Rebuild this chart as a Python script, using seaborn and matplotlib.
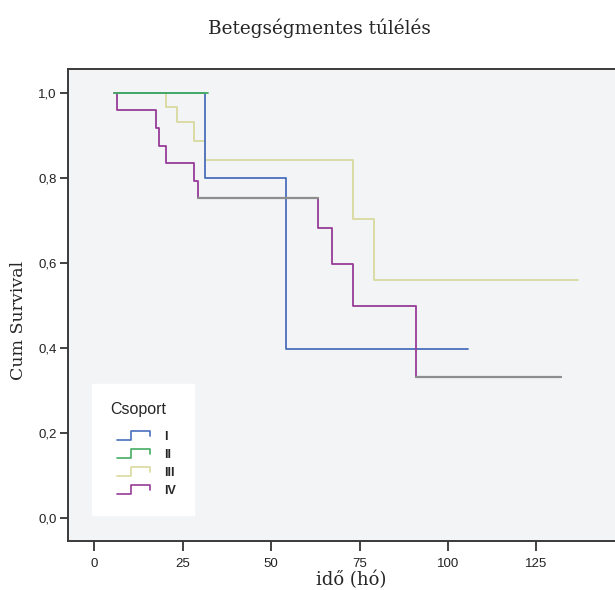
import matplotlib
matplotlib.use("Agg")
import matplotlib.pyplot as plt
from matplotlib.lines import Line2D
from matplotlib.legend_handler import HandlerBase
import seaborn as sns
import pandas as pd
import numpy as np

# ---- data ----
groups = ["I", "II", "III", "IV"]
t_I = [6.0, 31.2, 54.2, 105.7]
s_I = [1.0, 0.800, 0.399, 0.399]
t_II = [5.5, 32.0]
s_II = [1.0, 1.0]
t_III = [6.0, 20.3, 23.3, 28.2, 31.2, 73.1, 79.1, 136.7]
s_III = [1.0, 0.965, 0.932, 0.887, 0.842, 0.702, 0.561, 0.561]
t_IV = [5.6, 6.3, 17.4, 18.4, 20.3, 28.2, 29.2, 63.1, 67.1, 73.1, 91.0, 131.9]
s_IV = [1.0, 0.959, 0.916, 0.875, 0.834, 0.793, 0.752, 0.682, 0.597, 0.498, 0.332, 0.332]
# grey overlapping segments (drawn grey in the reference)
t_grey = [29.2, 63.1, np.nan, 91.0, 131.9]
s_grey = [0.752, 0.752, np.nan, 0.332, 0.332]

xticks = [0, 25, 50, 75, 100, 125]
yticks = [0.0, 0.2, 0.4, 0.6, 0.8, 1.0]
ytick_labels = ["0,0", "0,2", "0,4", "0,6", "0,8", "1,0"]

colors = {"I": "#4a6fbd", "II": "#45ad62", "III": "#d9d9a0", "IV": "#973c97"}
grey = "#8e8e8e"

series = {"I": (t_I, s_I), "II": (t_II, s_II), "III": (t_III, s_III), "IV": (t_IV, s_IV)}

sns.set_theme(style="ticks")
plt.rcParams["font.family"] = ["Liberation Sans", "DejaVu Sans"]

fig = plt.figure(figsize=(6.15, 5.9), dpi=100)
ax = fig.add_axes([68 / 615, 1 - 541 / 590, 1 - 68 / 615, (541 - 68.7) / 590])
ax.set_facecolor("#f2f4f6")

order = ["III", "I", "IV", "II"]
for g in order:
    t, s = series[g]
    df = pd.DataFrame({"t": t, "s": s})
    sns.lineplot(data=df, x="t", y="s", ax=ax, color=colors[g], lw=1.3,
                 drawstyle="steps-post", estimator=None, sort=False, legend=False)
df_g = pd.DataFrame({"t": t_grey, "s": s_grey})
ax.plot(df_g["t"], df_g["s"], color=grey, lw=1.6, drawstyle="steps-post")

ax.set_xlim(-7.45, 147.2)
ax.set_ylim(-0.053, 1.056)
ax.set_xticks(xticks)
ax.set_xticklabels([str(v) for v in xticks])
ax.set_yticks(yticks)
ax.set_yticklabels(ytick_labels)
ax.set_xlabel("")
ax.set_ylabel("")
ax.tick_params(axis="both", labelsize=9.5, colors="#222222", width=1.2, length=6)
ax.tick_params(axis="x", length=7, pad=5)
ax.tick_params(axis="y", pad=2)
for sp in ["left", "bottom", "top"]:
    ax.spines[sp].set_color("#3a3a3a")
    ax.spines[sp].set_linewidth(1.4)
ax.spines["right"].set_visible(False)


class StepHandler(HandlerBase):
    def create_artists(self, legend, orig_handle, xdescent, ydescent, width, height, fontsize, trans):
        x0 = -xdescent + width * 0.18
        x1 = -xdescent + width
        xm = x0 + (x1 - x0) * 0.42
        ylo = -ydescent + height * 0.0
        yhi = -ydescent + height * 1.0
        ymid = -ydescent + height * 0.45
        xs = [x0, xm, xm, x1, x1]
        ys = [ylo, ylo, yhi, yhi, ymid]
        ln = Line2D(xs, ys, color=orig_handle.get_color(), lw=1.2, transform=trans)
        return [ln]


handles = [Line2D([], [], color=colors[g]) for g in groups]
leg = ax.legend(handles, groups, title="Csoport", loc="lower left",
                bbox_to_anchor=(0.044, 0.055), borderaxespad=0,
                handler_map={Line2D: StepHandler()}, handlelength=3.2, handleheight=0.75,
                labelspacing=0.47, frameon=True, fancybox=False, framealpha=1,
                prop={"weight": "bold", "size": 9}, title_fontsize=11.5,
                alignment="left", borderpad=1.45, handletextpad=1.1)
leg._legend_box.sep = 10
leg.get_frame().set_edgecolor("white")
leg.get_frame().set_facecolor("white")

serif = ["DejaVu Serif"]
fig.text(319 / 615, 1 - 28 / 590, "Betegségmentes túlélés", ha="center", va="center",
         fontsize=13.3, family=serif)
fig.text(19 / 615, 1 - 320 / 590, "Cum Survival", ha="center", va="center", rotation=90,
         fontsize=12.5, family=serif)
fig.text(351 / 615, 1 - 580 / 590, "idő (hó)", ha="center", va="center",
         fontsize=13, family=serif)

fig.savefig("out.png", dpi=100, facecolor="white")
